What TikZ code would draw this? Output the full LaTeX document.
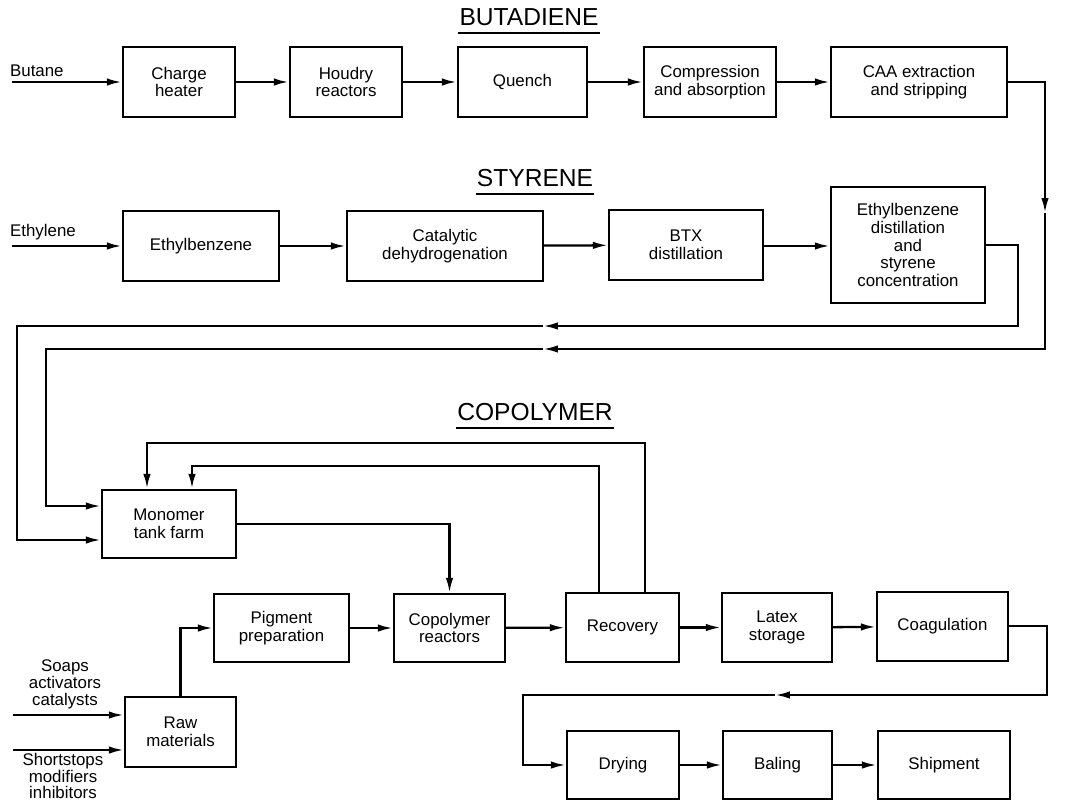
\documentclass[tikz,border=0pt]{standalone}
\usepackage{fontspec}
\setmainfont{Liberation Sans}
\usetikzlibrary{arrows.meta}
\newcommand\Bx[6]{\node[box, minimum width={(#4-#2)*0.02cm}, minimum height={(#5-#3)*0.02cm}] (#1) at ({(#2+#4)/2},{(#3+#5)/2}) {#6};}
\begin{document}
\begin{tikzpicture}[x=0.02cm,y=-0.02cm,
  line width=1.3pt,
  box/.style={draw, line width=1.3pt, align=center, inner sep=0pt, font=\fontsize{9.6}{10.2}\selectfont},
  arr/.style={-{Latex[length=8.5pt,width=4.2pt]}},
  lbl/.style={font=\fontsize{9.6}{9.6}\selectfont, inner sep=0pt, align=center},
  ttl/.style={font=\fontsize{14}{16}\selectfont, inner sep=0pt},
  uline/.style={line width=1.1pt}]
\useasboundingbox (0,0) rectangle (1072,801);
\fill[white] (0,0) rectangle (1072,801);

% ---------- titles ----------
\node[ttl] (tb) at (529,17) {BUTADIENE};
\draw[uline] ([yshift=-3.4pt]tb.south west) -- ([yshift=-3.4pt]tb.south east);
\node[ttl] (ts) at (535,178) {STYRENE};
\draw[uline] ([yshift=-3.4pt]ts.south west) -- ([yshift=-3.4pt]ts.south east);
\node[ttl] (tc) at (535,412) {COPOLYMER};
\draw[uline] ([yshift=-3.4pt]tc.south west) -- ([yshift=-3.4pt]tc.south east);

% ---------- butadiene ----------
\Bx{ch}{123}{47}{235}{117}{Charge\\heater}
\Bx{hr}{290}{47}{402}{117}{Houdry\\reactors}
\Bx{qu}{458}{47}{587}{117}{Quench}
\Bx{ca}{644}{47}{776}{117}{Compression\\and absorption}
\Bx{caa}{831}{47}{1007}{117}{CAA extraction\\and stripping}
\node[lbl, anchor=west] (bt) at (9,71) {Butane};
\coordinate (bin) at (12,82);
\draw[arr] (bin) -- (ch.west |- bin);
\draw[arr] (ch) -- (hr);
\draw[arr] (hr) -- (qu);
\draw[arr] (qu) -- (ca);
\draw[arr] (ca) -- (caa);

% ---------- styrene ----------
\Bx{eb}{123}{211}{279}{281}{Ethylbenzene}
\Bx{cd}{347}{211}{543}{281}{Catalytic\\dehydrogenation}
\Bx{btx}{609}{210}{763}{280}{BTX\\distillation}
\Bx{ebd}{831}{187}{985}{303}{Ethylbenzene\\distillation\\and\\styrene\\concentration}
\node[lbl, anchor=west] (et) at (9,232) {Ethylene};
\coordinate (ein) at (12,246);
\draw[arr] (ein) -- (eb.west |- ein);
\draw[arr] (eb) -- (cd);
\draw[arr] (cd) -- (btx);
\draw[arr] (btx.east |- cd) -- (ebd.west |- cd);

% ---------- copolymer ----------
\Bx{mono}{102}{490}{236}{558}{Monomer\\tank farm}
\Bx{pig}{214}{594}{349}{662}{Pigment\\preparation}
\Bx{cop}{394}{594}{505}{662}{Copolymer\\reactors}
\Bx{rec}{566}{593}{679}{662}{Recovery}
\Bx{lat}{722}{593}{832}{662}{Latex\\storage}
\Bx{coa}{877}{592}{1008}{661}{Coagulation}
\Bx{raw}{125}{697}{236}{767}{Raw\\materials}
\Bx{dry}{567}{731}{679}{799}{Drying}
\Bx{bal}{723}{731}{832}{799}{Baling}
\Bx{shp}{878}{731}{1010}{799}{Shipment}

% butadiene line to monomer tank farm
\coordinate (b1) at (1045,82);
\coordinate (b2) at (1045,213);
\coordinate (b3) at (1045,349);
\coordinate (b4) at (543,349);
\coordinate (b5) at (46,349);
\coordinate (b6) at (46,506);
\draw[arr] (caa.east |- b1) -- (b1) -- (b2);
\draw[arr] (b2) -- (b3) -- (b4);
\draw[arr] (b4) -- (b5) -- (b6) -- (mono.west |- b6);

% styrene line to monomer tank farm
\coordinate (s1) at (1018,245);
\coordinate (s2) at (1018,326);
\coordinate (s3) at (543,326);
\coordinate (s4) at (17,326);
\coordinate (s5) at (17,540);
\draw[arr] (ebd.east |- s1) -- (s1) -- (s2) -- (s3);
\draw[arr] (s3) -- (s4) -- (s5) -- (mono.west |- s5);

% recovery recycle lines
\coordinate (r1) at (645,443);
\coordinate (r2) at (147,443);
\coordinate (q1) at (599,466);
\coordinate (q2) at (192,466);
\draw[arr] (rec.north -| r1) -- (r1) -- (r2) -- (mono.north -| r2);
\draw[arr] (rec.north -| q1) -- (q1) -- (q2) -- (mono.north -| q2);

% monomer to copolymer reactors
\coordinate (m1) at (449.5,524);
\draw[arr] (mono.east |- m1) -- (m1) -- (cop.north);

% raw materials
\coordinate (w1) at (180.5,628);
\draw[arr] (raw.north) -- (w1) -- (pig.west |- w1);
\coordinate (i1) at (13,715);
\coordinate (i2) at (13,750);
\draw[arr] (i1) -- (raw.west |- i1);
\draw[arr] (i2) -- (raw.west |- i2);
\node[lbl] (l1) at (65,684) {Soaps\\activators\\catalysts};
\node[lbl] (l2) at (63,776) {Shortstops\\modifiers\\inhibitors};

% main row
\draw[arr] (pig) -- (cop);
\draw[arr] (cop) -- (rec);
\draw[arr] (rec) -- (lat);
\draw[arr] (lat) -- (coa);

% coagulation to drying
\coordinate (c1) at (1047,626);
\coordinate (c2) at (1047,695);
\coordinate (c3) at (775,695);
\coordinate (c4) at (523,695);
\coordinate (c5) at (523,765);
\draw[arr] (coa.east |- c1) -- (c1) -- (c2) -- (c3);
\draw[arr] (c3) -- (c4) -- (c5) -- (dry.west |- c5);
\draw[arr] (dry) -- (bal);
\draw[arr] (bal) -- (shp);
\end{tikzpicture}
\end{document}
